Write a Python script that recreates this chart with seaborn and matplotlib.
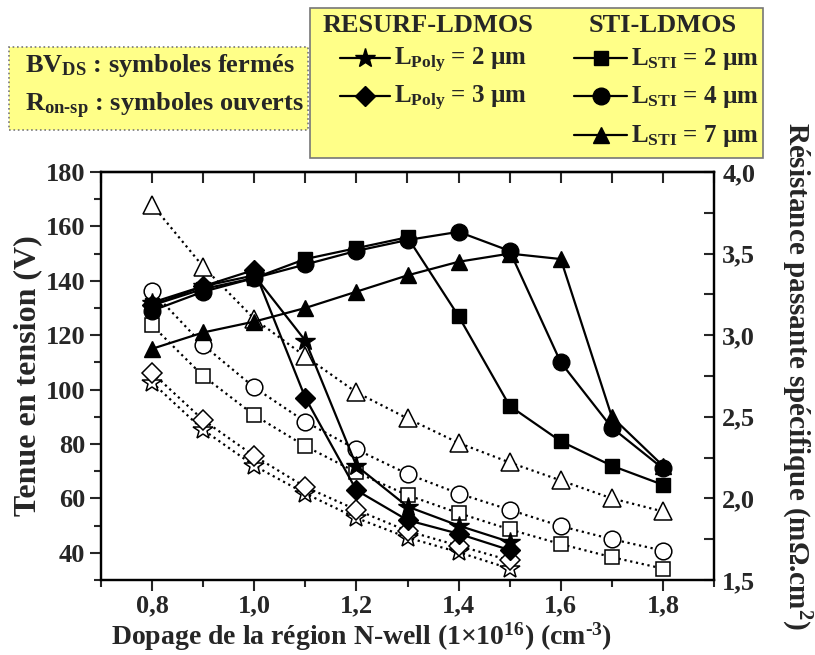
import numpy as np
import matplotlib
matplotlib.use('Agg')
import matplotlib.pyplot as plt
import seaborn as sns
from matplotlib.lines import Line2D
from matplotlib.patches import Rectangle
from matplotlib.ticker import MultipleLocator

# Doping of the N-well region (1e16 cm-3)
doping = [0.8, 0.9, 1.0, 1.1, 1.2, 1.3, 1.4, 1.5, 1.6, 1.7, 1.8]
doping_resurf = [0.8, 0.9, 1.0, 1.1, 1.2, 1.3, 1.4, 1.5]

# BV_DS (V), closed symbols, left axis
bv_poly2 = [132, 138, 142, 118, 72, 57, 50, 44]
bv_poly3 = [131, 138, 144, 97, 63, 52, 47, 41]
bv_sti2 = [131, 137, 141, 148, 152, 156, 127, 94, 81, 72, 65]
bv_sti4 = [129, 136, 141, 146, 151, 155, 158, 151, 110, 86, 71]
bv_sti7 = [115, 121, 125, 130, 136, 142, 147, 150, 148, 90, 72]

# R_on-sp (mOhm.cm2), open symbols, right axis
ron_poly2 = [2.71, 2.42, 2.20, 2.03, 1.88, 1.76, 1.67, 1.57]
ron_poly3 = [2.77, 2.48, 2.26, 2.07, 1.93, 1.80, 1.71, 1.62]
ron_sti2 = [3.06, 2.75, 2.51, 2.32, 2.16, 2.02, 1.91, 1.81, 1.72, 1.64, 1.57]
ron_sti4 = [3.27, 2.94, 2.68, 2.47, 2.30, 2.15, 2.03, 1.93, 1.83, 1.75, 1.68]
ron_sti7 = [3.80, 3.42, 3.10, 2.87, 2.65, 2.49, 2.34, 2.22, 2.11, 2.00, 1.92]

x_ticks = [0.8, 1.0, 1.2, 1.4, 1.6, 1.8]
x_tick_labels = ['0,8', '1,0', '1,2', '1,4', '1,6', '1,8']
left_ticks = [40, 60, 80, 100, 120, 140, 160, 180]
right_ticks = [1.5, 2.0, 2.5, 3.0, 3.5, 4.0]
right_tick_labels = ['1,5', '2,0', '2,5', '3,0', '3,5', '4,0']

sns.set_style('ticks')
plt.rcParams['font.family'] = ['Liberation Serif', 'DejaVu Serif']
plt.rcParams['font.weight'] = 'bold'
plt.rcParams['mathtext.fontset'] = 'custom'
plt.rcParams['mathtext.rm'] = 'Liberation Serif:bold'
plt.rcParams['mathtext.bf'] = 'Liberation Serif:bold'
plt.rcParams['mathtext.it'] = 'Liberation Serif:bold:italic'

W, H = 815, 655
fig = plt.figure(figsize=(W / 100, H / 100), dpi=100)
ax = fig.add_axes([101 / W, 1 - 580 / H, 613 / W, 408 / H])
ax2 = ax.twinx()

closed = [
    (doping_resurf, bv_poly2, '*', 15),
    (doping_resurf, bv_poly3, 'D', 10),
    (doping, bv_sti2, 's', 10),
    (doping, bv_sti4, 'o', 12),
    (doping, bv_sti7, '^', 12),
]
opened = [
    (doping_resurf, ron_poly2, '*', 15),
    (doping_resurf, ron_poly3, 'D', 10),
    (doping, ron_sti2, 's', 10),
    (doping, ron_sti4, 'o', 12),
    (doping, ron_sti7, '^', 13),
]

for xs, ys, m, ms in opened:
    sns.lineplot(x=xs, y=ys, ax=ax2, color='k', linestyle=':', linewidth=1.6,
                 marker=m, markersize=ms, markerfacecolor='white',
                 markeredgecolor='k', markeredgewidth=1.1, legend=False)

for xs, ys, m, ms in closed:
    sns.lineplot(x=xs, y=ys, ax=ax, color='k', linestyle='-', linewidth=1.6,
                 marker=m, markersize=ms, markerfacecolor='k',
                 markeredgecolor='k', markeredgewidth=1, legend=False)

ax.set_zorder(ax2.get_zorder() + 1)
ax.patch.set_visible(False)

ax.set_xlim(0.7, 1.9)
ax.set_ylim(30, 180)
ax2.set_ylim(1.5, 4.0)

ax.set_xticks(x_ticks)
ax.set_xticklabels(x_tick_labels)
ax.xaxis.set_minor_locator(MultipleLocator(0.1))
ax.set_yticks(left_ticks)
ax.set_yticklabels([str(v) for v in left_ticks])
ax.yaxis.set_minor_locator(MultipleLocator(10))
ax2.set_yticks(right_ticks)
ax2.set_yticklabels(right_tick_labels)
ax2.yaxis.set_minor_locator(MultipleLocator(0.25))

ax.tick_params(axis='both', which='major', direction='out', length=8, width=1.5,
               labelsize=19, top=False, right=False)
ax.tick_params(axis='x', which='major', pad=2)
ax.tick_params(axis='both', which='minor', direction='out', length=5, width=1.5,
               top=False, right=False)
ax2.tick_params(axis='y', which='both', direction='in', length=7, width=1.5,
                labelsize=19, pad=6)

top = ax.secondary_xaxis('top')
top.set_xticks(np.arange(0.7, 1.91, 0.1))
top.set_xticklabels([])
top.tick_params(direction='in', length=8, width=1.5)

for a in (ax, ax2):
    for s in a.spines.values():
        s.set_linewidth(1.6)
        s.set_color('k')
for s in top.spines.values():
    s.set_linewidth(1.6)

ax.set_xlabel(r'Dopage de la région N-well (1×10$^{\mathbf{16}}$) (cm$^{\text{-3}}$)',
              fontsize=20, fontweight='bold', va='center')
ax.xaxis.set_label_coords((362 - 101) / 613, (580 - 637) / 408)
ax.set_ylabel('Tenue en tension (V)', fontsize=23, fontweight='bold', va='center')
ax.yaxis.set_label_coords((28 - 101) / 613, 0.5)
ax2.set_ylabel(r'Résistance passante spécifique (mΩ.cm$^{\mathbf{2}}$)',
               fontsize=21, fontweight='bold', rotation=270, va='center')
ax2.yaxis.set_label_coords((796 - 101) / 613, 0.5)


def fx(x):
    return x / W


def fy(y):
    return 1 - y / H


# legend boxes
fig.add_artist(Rectangle((fx(9), fy(130)), (308 - 9) / W, (130 - 47) / H,
                         transform=fig.transFigure, facecolor='#ffff88',
                         edgecolor='#777777', linewidth=1.2, linestyle=':'))
fig.add_artist(Rectangle((fx(310), fy(158)), (763 - 310) / W, (158 - 8) / H,
                         transform=fig.transFigure, facecolor='#ffff88',
                         edgecolor='#777777', linewidth=1.2))

fig.text(fx(25), fy(72), r'BV$_{\mathbf{DS}}$ : symboles fermés', fontsize=19,
         fontweight='bold', ha='left', va='baseline')
fig.text(fx(25), fy(111), r'R$_{\text{on-sp}}$ : symboles ouverts', fontsize=19,
         fontweight='bold', ha='left', va='baseline')

fig.text(fx(428), fy(32), 'RESURF-LDMOS', fontsize=19, fontweight='bold',
         ha='center', va='baseline')
fig.text(fx(663), fy(32), 'STI-LDMOS', fontsize=19, fontweight='bold',
         ha='center', va='baseline')

entries = [
    (340, 390, 58, '*', 15, r'L$_{\mathbf{Poly}}$ = 2 µm'),
    (340, 390, 96, 'D', 10, r'L$_{\mathbf{Poly}}$ = 3 µm'),
    (574, 627, 58, 's', 10, r'L$_{\mathbf{STI}}$ = 2 µm'),
    (574, 627, 96, 'o', 12, r'L$_{\mathbf{STI}}$ = 4 µm'),
    (574, 627, 135, '^', 12, r'L$_{\mathbf{STI}}$ = 7 µm'),
]
for x0, x1, y, m, ms, label in entries:
    fig.add_artist(Line2D([fx(x0), fx((x0 + x1) / 2), fx(x1)], [fy(y)] * 3,
                          transform=fig.transFigure, color='k', linewidth=1.6,
                          marker=m, markersize=ms, markevery=[1],
                          markerfacecolor='k', markeredgecolor='k'))
    fig.text(fx(x1 + 4), fy(y + 7), label, fontsize=18, fontweight='bold',
             ha='left', va='baseline')

fig.savefig('out.png', dpi=100)
